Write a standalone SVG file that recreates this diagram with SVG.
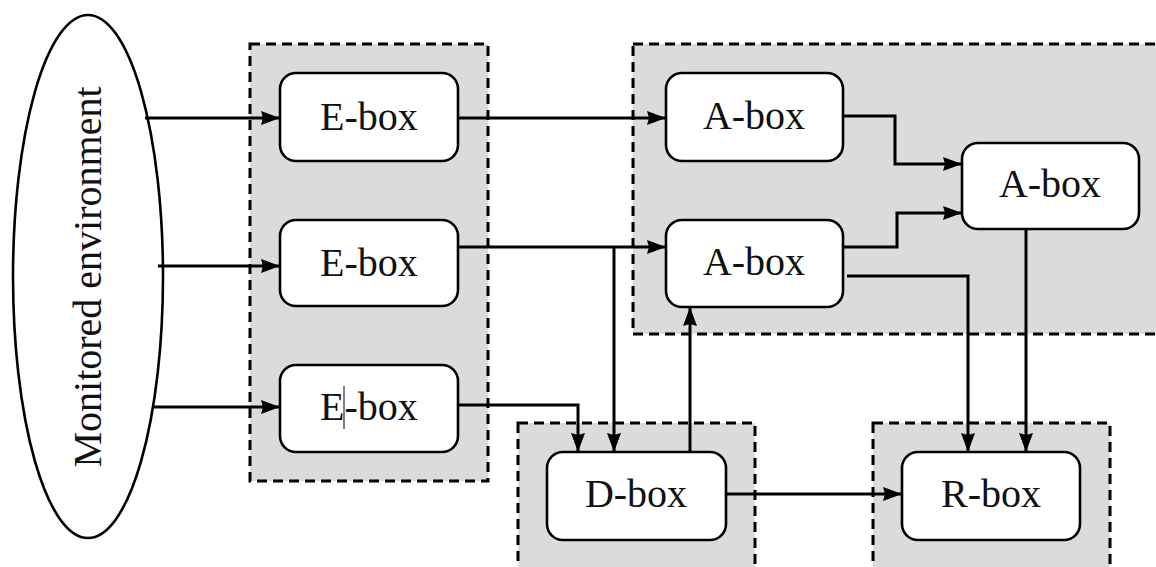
<svg xmlns="http://www.w3.org/2000/svg" width="1156" height="567" viewBox="0 0 1156 567">
<style>
.grp{fill:#dadbdd;stroke:#000;stroke-width:3;stroke-dasharray:10 6}
.box{fill:#fff;stroke:#000;stroke-width:2.6}
.lbl{font-family:"Liberation Serif","Times New Roman",serif;font-size:40px;fill:#111;text-anchor:middle}
.c{fill:none;stroke:#000;stroke-width:3}
</style>
<defs>
<marker id="ah" viewBox="0 0 19 14" refX="18" refY="7" markerWidth="19" markerHeight="14" markerUnits="userSpaceOnUse" orient="auto">
<path d="M0,0 L19,7 L0,14 L2,7 Z" fill="#000"/>
</marker>
</defs>
<rect width="1156" height="567" fill="#fff"/>
<g id="groups">
<rect id="g-e" class="grp" x="250" y="44" width="238" height="437"/>
<rect id="g-a" class="grp" x="633" y="44" width="540" height="290"/>
<rect id="g-d" class="grp" x="518" y="423" width="237" height="160"/>
<rect id="g-r" class="grp" x="873" y="423" width="237" height="160"/>
</g>
<g id="env">
<ellipse cx="88" cy="276.5" rx="75" ry="261.5" fill="#fff" stroke="#000" stroke-width="2.6"/>
<text class="lbl" transform="translate(101,277) rotate(-90)">Monitored environment</text>
</g>
<g id="connectors">
<path class="c" d="M145,118 H279" marker-end="url(#ah)"/>
<path class="c" d="M158,266 H279" marker-end="url(#ah)"/>
<path class="c" d="M152,407 H279" marker-end="url(#ah)"/>
<path class="c" d="M458,118 H665" marker-end="url(#ah)"/>
<path class="c" d="M458,247 H665" marker-end="url(#ah)"/>
<path class="c" d="M614,247 V451" marker-end="url(#ah)"/>
<path class="c" d="M458,405 H578 V451" marker-end="url(#ah)"/>
<path class="c" d="M690,452 V308" marker-end="url(#ah)"/>
<path class="c" d="M843,116 H895 V164 H961" marker-end="url(#ah)"/>
<path class="c" d="M843,247 H897 V213 H961" marker-end="url(#ah)"/>
<path class="c" d="M847,276 H968 V451" marker-end="url(#ah)"/>
<path class="c" d="M1026,229 V451" marker-end="url(#ah)"/>
<path class="c" d="M726,494 H901" marker-end="url(#ah)"/>
</g>
<g id="e1"><rect class="box" x="280" y="73" width="178" height="88" rx="16"/><text class="lbl" x="369" y="130">E-box</text></g>
<g id="e2"><rect class="box" x="280" y="220" width="178" height="86" rx="16"/><text class="lbl" x="369" y="276">E-box</text></g>
<g id="e3"><rect class="box" x="280" y="365" width="178" height="87" rx="16"/><text class="lbl" x="369" y="420">E-box</text><line x1="344" y1="386" x2="344" y2="429" stroke="#000" stroke-width="1"/></g>
<g id="a1"><rect class="box" x="666" y="73" width="177" height="88" rx="16"/><text class="lbl" x="754" y="129">A-box</text></g>
<g id="a2"><rect class="box" x="666" y="220" width="177" height="87" rx="16"/><text class="lbl" x="754" y="275">A-box</text></g>
<g id="a3"><rect class="box" x="962" y="143" width="177" height="86" rx="16"/><text class="lbl" x="1050" y="197">A-box</text></g>
<g id="d"><rect class="box" x="547" y="452" width="179" height="88" rx="16"/><text class="lbl" x="636" y="507">D-box</text></g>
<g id="r"><rect class="box" x="902" y="452" width="178" height="88" rx="16"/><text class="lbl" x="991" y="507">R-box</text></g>
</svg>
